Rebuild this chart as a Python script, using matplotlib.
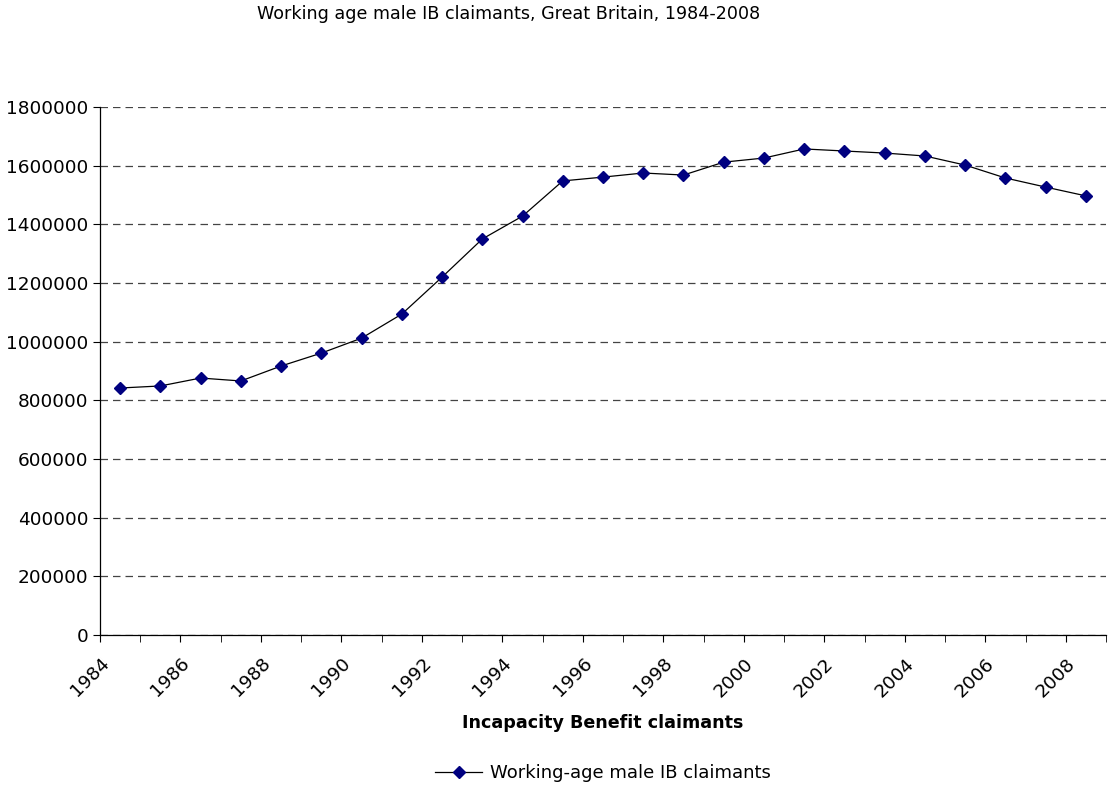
import numpy as np
import matplotlib.pyplot as plt

years = list(range(1984, 2009))
claimants = [842000, 849000, 876000, 866000, 917000, 961000, 1012000, 1094000,
             1220000, 1350000, 1428000, 1548000, 1561000, 1575000, 1568000,
             1612000, 1626000, 1657000, 1650000, 1643000, 1633000, 1602000,
             1558000, 1527000, 1497000]
yticks = list(range(0, 1800001, 200000))

plt.rcParams["font.family"] = ["DejaVu Sans"]

fig = plt.figure(figsize=(11.08, 7.87), dpi=100)
ax = fig.add_axes([100 / 1108, 1 - 635 / 787, 1006 / 1108, 528 / 787])

# categories sit between tick marks, as in a spreadsheet category axis
xpos = np.arange(len(years)) + 0.5
line, = ax.plot(xpos, claimants, color="black", lw=0.9, marker="D", ms=6.5,
                mfc="#000080", mec="#000080", label="Working-age male IB claimants")

ax.set_xlim(0, len(years))
ax.set_ylim(0, 1800000)
ax.set_yticks(yticks)
ax.set_yticklabels([str(v) for v in yticks], fontsize=13.3)
ax.set_xticks(np.arange(0, len(years) + 1), minor=True)
ax.set_xticks(np.arange(0, len(years), 2))
ax.set_xticklabels([str(y) for y in years[::2]], rotation=45, ha="right",
                   rotation_mode="anchor", fontsize=13.3)
ax.tick_params(axis="x", which="major", length=5, pad=9)
ax.tick_params(axis="x", which="minor", length=5)
ax.tick_params(axis="y", length=5)

ax.grid(axis="y", color="#444444", ls=(0, (6, 4)), lw=0.9)
ax.set_axisbelow(True)
for s in ("top", "right"):
    ax.spines[s].set_visible(False)
ax.spines["left"].set_linewidth(0.9)
ax.spines["bottom"].set_linewidth(0.9)

ax.set_xlabel("Incapacity Benefit claimants", fontsize=12.6, fontweight="bold", labelpad=10)
fig.text(509 / 1108, 1 - 14 / 787, "Working age male IB claimants, Great Britain, 1984-2008",
         ha="center", va="center", fontsize=12.6)
fig.legend(handles=[line], loc="center", bbox_to_anchor=(603 / 1108, 1 - 773 / 787),
           frameon=False, fontsize=13, handlelength=2.6, handletextpad=0.4)

fig.savefig("out.png", dpi=100)
